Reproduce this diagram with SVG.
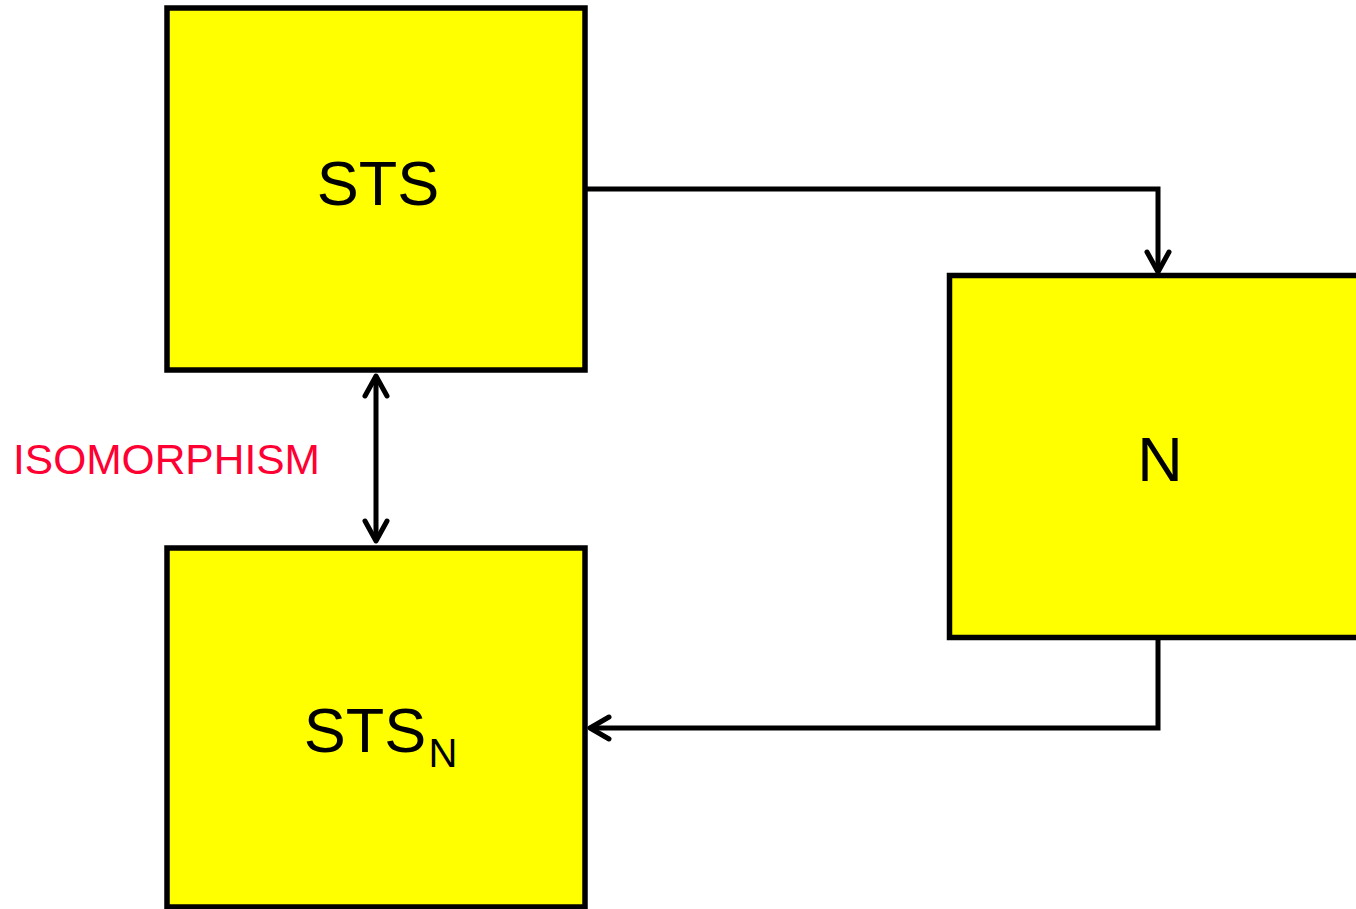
<svg xmlns="http://www.w3.org/2000/svg" width="1356" height="909" viewBox="0 0 1356 909">
<style>
.box{fill:#ffff00;stroke:#000;stroke-width:5.5}
.lbl{font-family:"Liberation Sans",Arial,sans-serif;font-size:63px;fill:#000;text-anchor:middle}
.sub{font-size:40px}
.edge{fill:none;stroke:#000;stroke-width:5}
.head{fill:none;stroke:#000;stroke-width:5;stroke-linecap:round;stroke-linejoin:round}
.red{font-family:"Liberation Sans",Arial,sans-serif;font-size:42.5px;fill:#ff0033}
</style>
<rect width="1356" height="909" fill="#fff"/>
<g id="node-sts">
<rect class="box" x="167" y="8" width="418" height="362"/>
<text class="lbl" x="378" y="205">STS</text>
</g>
<g id="node-n">
<rect class="box" x="949.5" y="275.5" width="420" height="362"/>
<text class="lbl" x="1160" y="481">N</text>
</g>
<g id="node-stsn">
<rect class="box" x="167" y="548" width="418" height="359"/>
<text class="lbl" x="365" y="752">STS</text>
<text class="lbl sub" x="443" y="767">N</text>
</g>
<g id="connectors">
<path class="edge" d="M585 189 H1158 V272"/>
<path class="head" d="M1147 252 L1158 272 L1169 252"/>
<path class="edge" d="M1158 638 V728 H590"/>
<path class="head" d="M609 717 L590 728 L609 739"/>
<path class="edge" d="M376 376 V541"/>
<path class="head" d="M365 396 L376 376 L387 396"/>
<path class="head" d="M365 521 L376 541 L387 521"/>
</g>
<g id="label-iso">
<text class="red" x="13" y="474">ISOMORPHISM</text>
</g>
</svg>
